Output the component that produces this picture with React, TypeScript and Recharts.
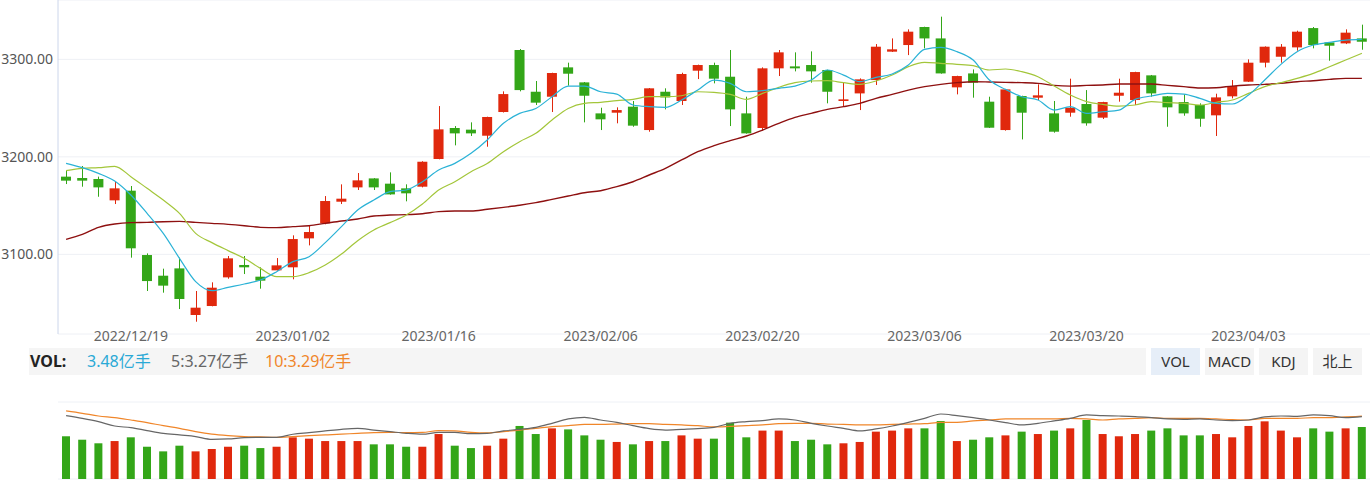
import { ComposedChart, Bar, Line, XAxis, YAxis, CartesianGrid, Cell } from 'recharts'

const RED = '#e0280d'
const GREEN = '#33a618'
const FONT = "'Noto Sans', 'Noto Sans CJK SC', sans-serif"

// daily OHLC, index 0 = first trading day on the left
const openPx = [
  3179.7, 3178.3, 3177.3, 3155.4, 3165.3, 3099.3, 3078.1, 3085.6, 3037.8, 3047.0,
  3076.4, 3089.1, 3077.1, 3083.6, 3086.7, 3116.4, 3131.8, 3154.0, 3168.7, 3177.9,
  3172.5, 3167.7, 3169.4, 3197.8, 3229.6, 3227.9, 3221.7, 3246.0, 3309.6, 3266.8,
  3261.7, 3291.8, 3276.4, 3244.6, 3245.3, 3251.5, 3227.5, 3266.8, 3257.3, 3288.4,
  3294.2, 3282.2, 3244.6, 3229.6, 3290.8, 3292.8, 3294.2, 3289.1, 3257.3, 3265.1,
  3278.8, 3307.9, 3314.7, 3333.2, 3321.5, 3271.3, 3285.6, 3256.6, 3227.5, 3262.4,
  3260.7, 3244.6, 3245.3, 3254.2, 3240.2, 3262.7, 3258.3, 3283.6, 3262.1, 3256.2,
  3253.2, 3242.6, 3262.1, 3277.1, 3296.6, 3302.7, 3312.3, 3332.1, 3317.4, 3316.4,
  3321.5,
]
const closePx = [
  3175.6, 3175.6, 3168.7, 3167.7, 3106.2, 3072.6, 3067.9, 3054.2, 3045.3, 3065.8,
  3095.9, 3086.7, 3073.0, 3088.7, 3115.7, 3122.9, 3154.7, 3157.1, 3175.9, 3168.7,
  3161.5, 3162.6, 3195.0, 3228.2, 3224.1, 3224.1, 3240.9, 3264.4, 3268.5, 3255.6,
  3286.0, 3285.3, 3262.7, 3238.5, 3248.0, 3232.0, 3270.3, 3261.0, 3285.0, 3294.2,
  3280.2, 3248.7, 3224.1, 3290.8, 3307.2, 3290.8, 3287.7, 3266.8, 3259.0, 3279.5,
  3313.0, 3310.3, 3328.4, 3321.5, 3285.6, 3282.9, 3276.1, 3229.9, 3269.2, 3245.3,
  3263.1, 3225.8, 3250.4, 3234.4, 3256.2, 3265.8, 3287.0, 3265.1, 3250.8, 3244.6,
  3239.1, 3261.0, 3272.6, 3296.6, 3313.0, 3313.0, 3328.4, 3314.7, 3314.0, 3327.4,
  3318.1,
]
const highPx = [
  3185.8, 3190.6, 3179.7, 3174.5, 3170.1, 3101.0, 3085.3, 3096.6, 3062.4, 3071.3,
  3098.3, 3098.3, 3086.7, 3096.2, 3119.5, 3129.1, 3159.8, 3171.8, 3183.4, 3178.2,
  3184.1, 3171.8, 3195.5, 3252.1, 3231.6, 3235.4, 3241.2, 3267.2, 3310.6, 3277.8,
  3286.3, 3296.6, 3276.8, 3250.4, 3250.8, 3257.3, 3270.6, 3270.3, 3286.3, 3294.6,
  3296.6, 3309.6, 3261.7, 3291.8, 3309.6, 3307.2, 3308.2, 3289.4, 3276.4, 3280.5,
  3315.7, 3321.5, 3330.8, 3333.5, 3343.8, 3283.2, 3289.7, 3261.7, 3269.5, 3262.7,
  3274.4, 3257.3, 3280.2, 3268.5, 3256.5, 3280.2, 3287.3, 3284.0, 3262.4, 3264.1,
  3254.9, 3264.8, 3278.8, 3300.0, 3313.3, 3315.7, 3329.4, 3333.2, 3317.7, 3330.8,
  3335.6,
]
const lowPx = [
  3172.1, 3169.4, 3159.1, 3151.6, 3096.6, 3062.4, 3060.7, 3043.9, 3030.9, 3046.7,
  3075.0, 3079.8, 3064.8, 3083.3, 3074.4, 3109.2, 3130.8, 3151.6, 3166.0, 3166.0,
  3161.2, 3154.4, 3168.7, 3197.5, 3211.8, 3221.4, 3210.4, 3245.5, 3267.2, 3253.2,
  3246.0, 3273.0, 3235.4, 3227.5, 3234.4, 3230.9, 3225.8, 3248.7, 3253.2, 3279.8,
  3275.4, 3231.6, 3223.8, 3226.8, 3282.9, 3287.7, 3276.1, 3254.9, 3252.1, 3248.0,
  3273.7, 3307.6, 3304.4, 3311.3, 3285.3, 3264.1, 3260.7, 3229.6, 3226.9, 3217.9,
  3258.3, 3224.8, 3241.2, 3232.0, 3238.8, 3256.6, 3253.2, 3261.7, 3230.9, 3242.2,
  3230.9, 3221.4, 3260.0, 3276.8, 3291.8, 3296.6, 3308.9, 3311.3, 3298.6, 3315.7,
  3309.9,
]

// price moving averages as drawn
const ma5 = [
  3193.3, 3188.9, 3183.1, 3175.2, 3160.9, 3142.1, 3121.5, 3095.9, 3072.0, 3062.7,
  3066.2, 3069.6, 3073.7, 3082.2, 3092.5, 3097.6, 3112.0, 3128.4, 3145.5, 3155.7,
  3164.3, 3166.0, 3174.5, 3186.5, 3193.3, 3203.6, 3217.3, 3234.4, 3244.6, 3249.7,
  3261.7, 3272.6, 3272.6, 3266.8, 3264.4, 3253.2, 3251.5, 3250.8, 3258.3, 3268.5,
  3278.8, 3275.4, 3266.8, 3267.9, 3270.3, 3272.6, 3278.8, 3289.1, 3283.9, 3277.1,
  3281.5, 3285.0, 3294.2, 3310.3, 3312.3, 3307.9, 3299.3, 3278.8, 3269.2, 3261.7,
  3258.3, 3248.0, 3251.5, 3244.6, 3246.3, 3248.0, 3259.0, 3262.4, 3265.1, 3264.4,
  3260.0, 3254.9, 3254.2, 3263.4, 3278.8, 3294.9, 3307.9, 3314.7, 3317.4, 3319.8,
  3320.5,
]
const ma10 = [
  3185.8, 3188.2, 3188.9, 3190.3, 3179.7, 3167.7, 3155.7, 3142.1, 3121.5, 3112.0,
  3103.8, 3095.9, 3085.6, 3077.1, 3077.1, 3081.2, 3089.1, 3100.3, 3114.0, 3125.0,
  3132.5, 3140.3, 3151.6, 3166.0, 3174.5, 3184.8, 3193.3, 3205.3, 3215.6, 3224.1,
  3237.8, 3249.7, 3254.9, 3255.9, 3257.6, 3259.0, 3261.7, 3261.7, 3262.7, 3266.8,
  3266.2, 3264.1, 3259.0, 3265.1, 3271.3, 3276.1, 3277.8, 3278.1, 3276.1, 3274.4,
  3277.8, 3283.9, 3292.5, 3296.9, 3295.9, 3294.9, 3293.5, 3289.1, 3290.1, 3287.4,
  3282.2, 3272.6, 3263.4, 3256.6, 3253.8, 3252.1, 3253.2, 3256.6, 3255.6, 3254.9,
  3253.2, 3255.9, 3258.3, 3265.1, 3272.0, 3276.1, 3280.5, 3285.6, 3292.5, 3299.3,
  3306.2,
]
const ma20 = [
  3115.4, 3120.5, 3127.7, 3131.1, 3132.5, 3132.8, 3133.5, 3133.8, 3132.8, 3131.8,
  3130.8, 3129.4, 3127.7, 3127.4, 3128.4, 3129.4, 3131.8, 3134.2, 3136.2, 3139.3,
  3140.3, 3140.7, 3141.7, 3143.8, 3144.4, 3144.4, 3146.2, 3148.2, 3150.3, 3153.0,
  3156.4, 3159.8, 3163.2, 3165.3, 3169.4, 3174.5, 3181.4, 3188.2, 3196.8, 3205.3,
  3211.5, 3216.6, 3221.4, 3227.5, 3234.4, 3240.5, 3244.6, 3248.7, 3251.5, 3254.9,
  3260.0, 3264.1, 3268.5, 3272.0, 3274.4, 3276.1, 3277.1, 3276.8, 3276.4, 3276.1,
  3275.4, 3273.3, 3272.6, 3273.3, 3273.7, 3274.7, 3274.7, 3274.7, 3273.3, 3272.0,
  3270.6, 3270.9, 3272.6, 3273.7, 3274.4, 3275.4, 3277.1, 3278.1, 3279.5, 3280.5,
  3280.5,
]

// volume, 亿手
const vol = [
  2.86, 2.63, 2.39, 2.54, 2.79, 2.16, 1.85, 2.23, 1.85, 2.01,
  2.16, 2.23, 2.07, 2.16, 2.79, 2.70, 2.54, 2.54, 2.54, 2.32,
  2.32, 2.16, 2.16, 3.01, 2.23, 2.07, 2.23, 2.70, 3.55, 3.01,
  3.39, 3.32, 2.92, 2.63, 2.48, 2.32, 2.54, 2.54, 2.92, 2.70,
  2.70, 3.77, 2.79, 3.24, 3.24, 2.54, 2.63, 2.32, 2.39, 2.48,
  3.17, 3.24, 3.39, 3.39, 3.88, 2.54, 2.63, 2.79, 2.92, 3.17,
  3.01, 3.24, 3.39, 3.95, 3.01, 2.86, 3.01, 3.24, 3.39, 2.92,
  2.92, 3.01, 2.79, 3.55, 3.86, 3.24, 2.79, 3.39, 3.17, 3.39,
  3.48,
]
const volMa5 = [
  3.32, 3.17, 2.99, 2.75, 2.66, 2.50, 2.35, 2.26, 2.17, 2.02,
  2.04, 2.11, 2.13, 2.13, 2.30, 2.39, 2.48, 2.57, 2.62, 2.53,
  2.44, 2.35, 2.30, 2.40, 2.40, 2.33, 2.35, 2.48, 2.57, 2.68,
  2.90, 3.14, 3.23, 3.08, 2.95, 2.77, 2.61, 2.53, 2.57, 2.61,
  2.68, 2.90, 2.99, 3.05, 3.14, 3.08, 2.90, 2.75, 2.62, 2.48,
  2.59, 2.75, 2.95, 3.17, 3.41, 3.32, 3.21, 3.08, 2.94, 2.81,
  2.90, 3.03, 3.17, 3.36, 3.32, 3.30, 3.27, 3.21, 3.14, 3.12,
  3.14, 3.08, 3.05, 3.08, 3.25, 3.30, 3.28, 3.36, 3.32, 3.21,
  3.27,
]
const volMa10 = [
  3.58, 3.45, 3.30, 3.21, 3.08, 2.94, 2.77, 2.62, 2.44, 2.30,
  2.22, 2.17, 2.15, 2.13, 2.17, 2.22, 2.26, 2.30, 2.35, 2.39,
  2.40, 2.39, 2.40, 2.50, 2.48, 2.40, 2.37, 2.44, 2.53, 2.62,
  2.72, 2.77, 2.84, 2.84, 2.86, 2.88, 2.88, 2.84, 2.81, 2.77,
  2.70, 2.73, 2.77, 2.81, 2.88, 2.90, 2.90, 2.86, 2.84, 2.81,
  2.81, 2.84, 2.86, 2.88, 2.95, 2.95, 3.03, 3.08, 3.14, 3.14,
  3.14, 3.14, 3.17, 3.14, 3.08, 3.14, 3.17, 3.21, 3.17, 3.17,
  3.17, 3.14, 3.10, 3.08, 3.17, 3.17, 3.17, 3.21, 3.21, 3.25,
  3.29,
]

const xTickIdx = [4, 14, 23, 33, 43, 53, 63, 73]
const xTickLabels = [
  '2022/12/19', '2023/01/02', '2023/01/16', '2023/02/06',
  '2023/02/20', '2023/03/06', '2023/03/20', '2023/04/03',
]
const priceTicks = [3100, 3200, 3300]
const volTicks = [1.031, 2.062, 3.092, 4.123, 5.154]

const rows = openPx.map((o, i) => ({
  idx: i,
  open: o,
  close: closePx[i],
  high: highPx[i],
  low: lowPx[i],
  range: [lowPx[i], highPx[i]],
  ma5: ma5[i],
  ma10: ma10[i],
  ma20: ma20[i],
  vol: vol[i],
  volMa5: volMa5[i],
  volMa10: volMa10[i],
}))

function Candle(props: any) {
  const { x, y, width, height, payload } = props
  const { open, close, high, low } = payload
  const color = close >= open ? RED : GREEN
  const top = height < 0 ? y + height : y
  const h = Math.abs(height)
  const k = h / (high - low || 1)
  const bTop = top + (high - Math.max(open, close)) * k
  const bBot = top + (high - Math.min(open, close)) * k
  const cx = Math.round(x + width / 2) + 0.5
  return (
    <g>
      <line x1={cx} x2={cx} y1={top} y2={top + h} stroke={color} strokeWidth={1} />
      <rect x={x} y={bTop} width={width} height={Math.max(bBot - bTop, 1)} fill={color} />
    </g>
  )
}

function DateTick(props: any) {
  const { x, y, payload } = props
  const label = xTickLabels[xTickIdx.indexOf(payload.value)]
  return (
    <text x={x} y={y} dy={7} textAnchor="middle" fill="#666" fontSize={14} fontFamily={FONT}>
      {label}
    </text>
  )
}

const btn = (left: number, active: boolean) => ({
  position: 'absolute' as const,
  left,
  top: 348,
  width: 49,
  height: 27,
  lineHeight: '27px',
  textAlign: 'center' as const,
  background: active ? '#e6eef8' : '#f4f4f4',
  color: '#333',
  fontSize: 15,
})

const legendText = (left: number, color: string, bold = false) => ({
  position: 'absolute' as const,
  left,
  top: 348,
  lineHeight: '27px',
  fontSize: 16,
  fontWeight: bold ? 700 : 400,
  color,
})

export default function App() {
  return (
    <div
      style={{
        position: 'absolute',
        left: 0,
        top: 0,
        width: 1372,
        height: 482,
        background: '#fff',
        fontFamily: FONT,
        overflow: 'hidden',
      }}
    >
      <div style={{ position: 'absolute', left: 0, top: 0 }}>
        <ComposedChart width={1372} height={345} data={rows} margin={{ top: 0, right: 2, bottom: 0, left: 0 }}>
          <CartesianGrid vertical={false} stroke="#eef0f5" />
          <XAxis
            dataKey="idx"
            ticks={xTickIdx}
            interval={0}
            tick={<DateTick />}
            axisLine={false}
            tickLine={false}
            tickSize={0}
            tickMargin={0}
            height={11}
          />
          <YAxis
            width={58}
            domain={[3018.3, 3360.9]}
            allowDataOverflow
            ticks={priceTicks}
            tickFormatter={(v: number) => v.toFixed(2)}
            tick={{ fontSize: 14, fill: '#555', fontFamily: FONT }}
            axisLine={{ stroke: '#ccd6eb' }}
            tickLine={false}
            tickSize={0}
            tickMargin={5}
          />
          <Bar dataKey="range" barSize={10} shape={<Candle />} isAnimationActive={false} />
          <Line type="monotone" dataKey="ma20" stroke="#8e1010" strokeWidth={1.4} dot={false} isAnimationActive={false} />
          <Line type="monotone" dataKey="ma10" stroke="#a3c63a" strokeWidth={1.2} dot={false} isAnimationActive={false} />
          <Line type="monotone" dataKey="ma5" stroke="#2ab2d6" strokeWidth={1.2} dot={false} isAnimationActive={false} />
        </ComposedChart>
      </div>

      <div style={{ position: 'absolute', left: 29, top: 348, width: 1117, height: 27, background: '#f5f5f5' }} />
      <div style={legendText(30, '#222', true)}>VOL:</div>
      <div style={legendText(87, '#2aa9d6')}>3.48亿手</div>
      <div style={legendText(171, '#666')}>5:3.27亿手</div>
      <div style={legendText(265, '#f0862a')}>10:3.29亿手</div>
      <div style={btn(1151, true)}>VOL</div>
      <div style={btn(1205, false)}>MACD</div>
      <div style={btn(1259, false)}>KDJ</div>
      <div style={btn(1313, false)}>北上</div>

      <div style={{ position: 'absolute', left: 0, top: 395 }}>
        <ComposedChart width={1372} height={87} data={rows} margin={{ top: 7, right: 2, bottom: 3, left: 58 }}>
          <CartesianGrid vertical={false} stroke="#eef1f6" />
          <XAxis dataKey="idx" tick={false} tickLine={false} axisLine={{ stroke: '#ccd6eb' }} height={0} />
          <YAxis width={0} domain={[0, 5.154]} ticks={volTicks} tick={false} axisLine={false} tickLine={false} />
          <YAxis yAxisId="ma" hide domain={[-0.16, 4.07]} />
          <Bar dataKey="vol" barSize={8} isAnimationActive={false}>
            {rows.map((r) => (
              <Cell key={r.idx} fill={r.close >= r.open ? RED : GREEN} />
            ))}
          </Bar>
          <Line yAxisId="ma" type="monotone" dataKey="volMa10" stroke="#f0862a" strokeWidth={1.2} dot={false} isAnimationActive={false} />
          <Line yAxisId="ma" type="monotone" dataKey="volMa5" stroke="#666" strokeWidth={1.2} dot={false} isAnimationActive={false} />
        </ComposedChart>
      </div>
    </div>
  )
}
